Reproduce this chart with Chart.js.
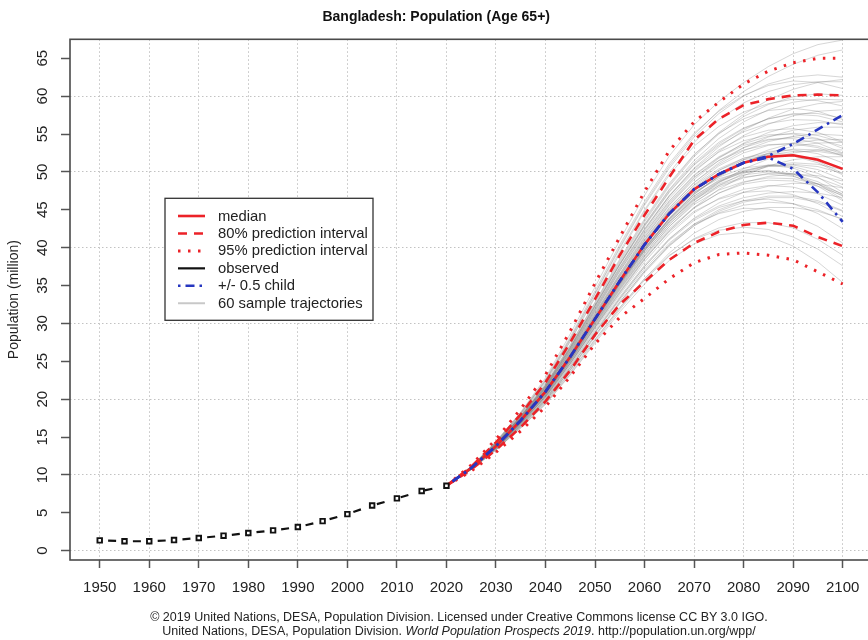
<!DOCTYPE html>
<html>
<head>
<meta charset="utf-8">
<script src="https://cdn.jsdelivr.net/npm/chart.js@4/dist/chart.umd.min.js"></script>
<style>
  html, body { margin: 0; padding: 0; background: #fff; overflow: hidden; width: 868px; height: 640px; }
  #wrap { position: relative; width: 880px; height: 640px; }
  #c { display: block; }
  #foot { position: absolute; left: 0; top: 610px; width: 918px; text-align: center;
          font: 12.5px "Liberation Sans", Arial, sans-serif; color: #222; line-height: 14px; }
</style>
</head>
<body>
<div id="wrap">
  <canvas id="c" width="880" height="640"></canvas>
  <div id="foot">© 2019 United Nations, DESA, Population Division. Licensed under Creative Commons license CC BY 3.0 IGO.<br>United Nations, DESA, Population Division. <i>World Population Prospects 2019</i>. http://population.un.org/wpp/</div>
</div>
<script>
// ---- data (population aged 65+, millions) ----
const obsYears = [1950, 1955, 1960, 1965, 1970, 1975, 1980, 1985, 1990, 1995, 2000, 2005, 2010, 2015, 2020];
const observed = [1.36, 1.25, 1.24, 1.40, 1.67, 1.98, 2.33, 2.68, 3.12, 3.90, 4.83, 5.96, 6.90, 7.87, 8.57];

const projYears = [2020, 2025, 2030, 2035, 2040, 2045, 2050, 2055, 2060, 2065, 2070, 2075, 2080, 2085, 2090, 2095, 2100];
const median  = [8.57, 10.9, 13.8, 17.2, 21.0, 25.6, 30.6, 35.6, 40.4, 44.5, 47.7, 49.7, 51.2, 52.0, 52.2, 51.6, 50.4];
const upper80 = [8.57, 11.1, 14.3, 18.0, 22.2, 27.5, 33.2, 39.0, 44.3, 49.3, 54.2, 57.0, 58.8, 59.6, 60.1, 60.2, 60.1];
const lower80 = [8.57, 10.7, 13.3, 16.3, 19.7, 23.8, 28.5, 32.5, 35.5, 38.4, 40.6, 42.1, 43.0, 43.3, 42.9, 41.4, 40.2];
const upper95 = [8.57, 11.3, 14.7, 18.7, 23.2, 29.0, 35.3, 41.4, 47.4, 52.8, 56.6, 59.2, 61.6, 63.3, 64.4, 65.0, 65.0];
const lower95 = [8.57, 10.5, 13.0, 15.8, 19.0, 23.0, 27.3, 30.8, 33.3, 35.9, 38.0, 39.1, 39.3, 39.0, 38.4, 36.8, 35.2];
const childHigh = [8.57, 10.9, 13.8, 17.2, 21.0, 25.6, 30.6, 35.6, 40.4, 44.5, 47.7, 49.7, 51.2, 52.1, 53.7, 55.6, 57.5];
const childLow  = [8.57, 10.9, 13.8, 17.2, 21.0, 25.6, 30.6, 35.6, 40.4, 44.5, 47.7, 49.7, 51.2, 51.9, 50.4, 47.3, 43.4];

const sampleTrajectories = [
  [8.6, 11.1, 14.4, 18.3, 22.8, 28.6, 34.8, 41.0, 46.9, 52.1, 56.2, 59.3, 61.8, 63.9, 65.6, 66.8, 67.4],
  [8.6, 11.0, 14.2, 17.9, 22.1, 27.6, 33.4, 39.2, 44.8, 49.6, 53.4, 56.0, 57.9, 59.0, 59.6, 59.4, 58.7],
  [8.6, 10.9, 13.9, 17.4, 21.4, 26.2, 31.4, 36.6, 41.6, 45.9, 49.3, 51.5, 52.9, 53.6, 53.7, 53.2, 52.1],
  [8.6, 10.8, 13.6, 16.8, 20.3, 24.7, 29.5, 34.1, 38.5, 42.1, 44.8, 46.4, 47.3, 47.5, 47.0, 45.8, 44.1],
  [8.6, 10.9, 13.8, 17.1, 20.9, 25.5, 30.5, 35.6, 40.2, 44.3, 47.5, 49.8, 51.6, 52.9, 53.8, 54.2, 54.3],
  [8.6, 11.0, 14.1, 17.7, 21.7, 26.8, 32.3, 37.8, 43.0, 47.6, 51.2, 53.9, 55.8, 57.0, 57.6, 57.4, 56.6],
  [8.6, 10.8, 13.5, 16.6, 19.9, 24.1, 28.7, 33.1, 37.2, 40.6, 43.1, 44.5, 45.2, 45.1, 44.3, 42.8, 40.6],
  [8.6, 10.9, 13.7, 17.0, 20.6, 25.1, 30.0, 34.9, 39.5, 43.4, 46.5, 48.6, 50.0, 50.8, 50.9, 50.3, 49.0],
  [8.6, 11.0, 14.0, 17.5, 21.5, 26.5, 31.8, 37.2, 42.3, 46.8, 50.5, 53.3, 55.5, 57.1, 58.3, 59.0, 59.3],
  [8.6, 10.9, 13.8, 17.2, 21.0, 25.7, 30.8, 35.8, 40.5, 44.4, 47.3, 49.1, 50.0, 50.1, 49.5, 48.1, 46.2],
  [8.6, 10.7, 13.4, 16.4, 19.6, 23.6, 27.9, 32.1, 35.9, 39.0, 41.1, 42.3, 42.7, 42.4, 41.4, 39.8, 37.6],
  [8.6, 11.1, 14.3, 18.1, 22.4, 27.9, 33.9, 39.9, 45.6, 50.5, 54.6, 57.7, 60.0, 61.6, 62.5, 62.8, 62.5],
  [8.6, 10.9, 13.9, 17.3, 21.2, 26.0, 31.1, 36.3, 41.1, 45.3, 48.6, 51.0, 52.8, 54.0, 54.7, 55.0, 54.8],
  [8.6, 10.8, 13.7, 16.9, 20.5, 25.0, 29.8, 34.6, 39.0, 42.8, 45.7, 47.6, 48.7, 49.2, 49.1, 48.4, 47.1],
  [8.6, 11.0, 14.0, 17.6, 21.6, 26.6, 32.0, 37.4, 42.4, 46.8, 50.2, 52.6, 54.1, 54.9, 55.0, 54.4, 53.1],
  [8.6, 10.9, 13.8, 17.2, 20.9, 25.5, 30.5, 35.4, 40.0, 43.9, 47.1, 49.4, 51.2, 52.5, 53.4, 53.8, 53.9],
  [8.6, 10.8, 13.6, 16.7, 20.2, 24.5, 29.2, 33.8, 38.1, 41.8, 44.6, 46.5, 47.7, 48.2, 48.0, 47.1, 45.6],
  [8.6, 11.0, 14.2, 17.8, 21.9, 27.1, 32.7, 38.3, 43.6, 48.3, 52.2, 55.2, 57.6, 59.5, 60.9, 61.8, 62.2],
  [8.6, 10.9, 13.7, 17.0, 20.7, 25.2, 30.1, 35.0, 39.6, 43.4, 46.3, 48.2, 49.3, 49.7, 49.4, 48.4, 46.8],
  [8.6, 10.8, 13.5, 16.5, 19.8, 23.9, 28.4, 32.8, 36.9, 40.3, 42.9, 44.6, 45.6, 46.0, 45.8, 45.0, 43.7],
  [8.6, 11.0, 14.1, 17.6, 21.6, 26.7, 32.2, 37.7, 42.8, 47.3, 50.9, 53.5, 55.3, 56.4, 56.9, 56.8, 56.2],
  [8.6, 10.9, 13.8, 17.1, 20.8, 25.4, 30.4, 35.3, 39.9, 43.9, 47.1, 49.5, 51.3, 52.4, 53.0, 52.9, 52.3],
  [8.6, 10.9, 13.9, 17.4, 21.3, 26.1, 31.3, 36.5, 41.4, 45.7, 49.2, 51.8, 53.8, 55.2, 56.1, 56.5, 56.4],
  [8.6, 10.8, 13.6, 16.8, 20.4, 24.8, 29.6, 34.4, 38.8, 42.5, 45.3, 47.2, 48.4, 48.9, 48.8, 48.1, 46.9],
  [8.6, 10.7, 13.3, 16.2, 19.4, 23.3, 27.6, 31.8, 35.7, 38.9, 41.2, 42.6, 43.3, 43.3, 42.6, 41.1, 39.0],
  [8.6, 11.1, 14.4, 18.2, 22.6, 28.2, 34.3, 40.4, 46.1, 51.1, 55.1, 58.0, 60.1, 61.4, 62.0, 61.8, 61.0],
  [8.6, 10.9, 13.8, 17.2, 21.0, 25.6, 30.7, 35.7, 40.4, 44.5, 47.8, 50.2, 51.8, 52.7, 52.9, 52.4, 51.2],
  [8.6, 11.0, 14.0, 17.5, 21.4, 26.3, 31.6, 36.9, 41.9, 46.2, 49.6, 52.0, 53.7, 54.7, 55.1, 54.8, 53.9],
  [8.6, 10.8, 13.6, 16.8, 20.3, 24.7, 29.4, 34.0, 38.4, 42.2, 45.3, 47.7, 49.5, 50.8, 51.6, 52.0, 52.0],
  [8.6, 10.9, 13.7, 17.0, 20.7, 25.3, 30.3, 35.2, 39.8, 43.7, 46.8, 48.9, 50.2, 50.8, 50.7, 49.8, 48.3],
  [8.6, 10.8, 13.5, 16.6, 20.0, 24.2, 28.8, 33.3, 37.5, 41.0, 43.6, 45.3, 46.2, 46.4, 45.8, 44.5, 42.5],
  [8.6, 11.0, 14.1, 17.7, 21.8, 26.9, 32.5, 38.1, 43.4, 48.1, 52.0, 55.0, 57.3, 58.9, 59.9, 60.3, 60.1],
  [8.6, 10.9, 13.8, 17.2, 21.0, 25.7, 30.8, 35.9, 40.7, 44.9, 48.3, 50.8, 52.5, 53.5, 53.8, 53.4, 52.4],
  [8.6, 10.9, 13.9, 17.3, 21.1, 25.9, 31.0, 36.1, 40.9, 45.0, 48.2, 50.4, 51.8, 52.4, 52.3, 51.4, 49.8],
  [8.6, 10.8, 13.6, 16.7, 20.1, 24.4, 29.0, 33.5, 37.7, 41.2, 43.8, 45.5, 46.6, 47.2, 47.4, 47.2, 46.6],
  [8.6, 11.0, 14.1, 17.7, 21.7, 26.8, 32.3, 37.8, 42.9, 47.4, 51.0, 53.7, 55.7, 57.0, 57.7, 57.7, 57.1],
  [8.6, 10.9, 13.8, 17.1, 20.8, 25.4, 30.3, 35.2, 39.7, 43.6, 46.6, 48.7, 50.1, 50.9, 51.2, 51.0, 50.3],
  [8.6, 10.7, 13.3, 16.2, 19.3, 23.2, 27.4, 31.5, 35.2, 38.3, 40.5, 41.7, 42.0, 41.5, 40.2, 38.1, 35.4],
  [8.6, 11.0, 14.0, 17.5, 21.5, 26.4, 31.8, 37.1, 42.1, 46.5, 50.0, 52.7, 54.8, 56.3, 57.4, 58.0, 58.2],
  [8.6, 10.9, 13.7, 17.0, 20.6, 25.1, 30.0, 34.8, 39.3, 43.1, 46.0, 48.0, 49.2, 49.8, 49.8, 49.2, 48.0],
  [8.6, 11.1, 14.3, 18.0, 22.3, 27.7, 33.6, 39.5, 45.0, 49.9, 53.9, 56.9, 59.1, 60.6, 61.5, 61.9, 61.9],
  [8.6, 10.8, 13.6, 16.9, 20.4, 24.9, 29.7, 34.5, 38.9, 42.8, 45.9, 48.2, 49.8, 50.7, 51.0, 50.7, 49.8],
  [8.6, 10.9, 13.8, 17.2, 20.9, 25.6, 30.6, 35.6, 40.3, 44.2, 47.3, 49.3, 50.5, 50.9, 50.5, 49.3, 47.3],
  [8.6, 10.8, 13.5, 16.6, 20.0, 24.2, 28.8, 33.3, 37.5, 41.1, 43.9, 45.9, 47.3, 48.1, 48.5, 48.4, 47.9],
  [8.6, 11.0, 14.1, 17.6, 21.6, 26.6, 32.0, 37.4, 42.5, 46.9, 50.4, 52.9, 54.6, 55.5, 55.7, 55.2, 54.0],
  [8.6, 10.9, 13.8, 17.1, 20.8, 25.4, 30.4, 35.3, 39.9, 43.8, 46.8, 48.8, 49.9, 50.2, 49.7, 48.4, 46.4],
  [8.6, 10.8, 13.6, 16.8, 20.3, 24.7, 29.5, 34.2, 38.6, 42.3, 45.2, 47.2, 48.6, 49.4, 49.7, 49.5, 48.8],
  [8.6, 11.0, 14.2, 17.8, 21.9, 27.2, 32.8, 38.5, 43.8, 48.5, 52.3, 55.1, 57.0, 58.1, 58.4, 58.0, 56.9],
  [8.6, 10.9, 13.9, 17.3, 21.2, 25.9, 31.0, 36.2, 41.0, 45.2, 48.6, 51.2, 53.2, 54.6, 55.5, 55.9, 55.9],
  [8.6, 10.7, 13.3, 16.3, 19.5, 23.5, 27.8, 32.0, 35.9, 39.3, 41.9, 43.7, 44.8, 45.3, 45.3, 44.8, 43.8],
  [8.6, 10.9, 13.8, 17.2, 21.0, 25.7, 30.8, 35.9, 40.7, 44.8, 48.0, 50.2, 51.6, 52.2, 52.1, 51.2, 49.6],
  [8.6, 11.0, 14.0, 17.5, 21.4, 26.3, 31.6, 36.9, 41.8, 46.1, 49.5, 51.9, 53.5, 54.3, 54.4, 53.8, 52.5],
  [8.6, 10.8, 13.7, 16.9, 20.5, 25.0, 29.9, 34.7, 39.2, 43.1, 46.2, 48.6, 50.4, 51.7, 52.5, 52.9, 52.9],
  [8.6, 10.9, 13.7, 17.0, 20.7, 25.2, 30.2, 35.1, 39.6, 43.4, 46.4, 48.4, 49.6, 50.0, 49.7, 48.7, 47.0],
  [8.6, 11.0, 14.1, 17.7, 21.8, 26.9, 32.4, 37.9, 43.1, 47.7, 51.5, 54.4, 56.6, 58.2, 59.2, 59.6, 59.5],
  [8.6, 10.8, 13.5, 16.5, 19.8, 23.9, 28.4, 32.8, 36.9, 40.4, 43.1, 45.0, 46.2, 46.8, 46.8, 46.2, 44.9],
  [8.6, 10.9, 13.9, 17.3, 21.2, 26.0, 31.2, 36.4, 41.3, 45.6, 49.0, 51.5, 53.2, 54.2, 54.6, 54.3, 53.4],
  [8.6, 10.9, 13.8, 17.1, 20.8, 25.3, 30.3, 35.2, 39.8, 43.8, 47.0, 49.4, 51.1, 52.2, 52.7, 52.7, 52.2],
  [8.6, 10.7, 13.4, 16.4, 19.7, 23.8, 28.2, 32.6, 36.7, 40.2, 42.9, 44.8, 46.0, 46.6, 46.6, 46.0, 44.8],
  [8.6, 11.1, 14.3, 18.1, 22.5, 28.0, 34.0, 40.1, 45.8, 50.8, 54.9, 58.1, 60.6, 62.6, 64.2, 65.4, 66.1]
];

const xTickYears = [1950, 1960, 1970, 1980, 1990, 2000, 2010, 2020, 2030, 2040, 2050, 2060, 2070, 2080, 2090, 2100];
const yTickValues = [0, 5, 10, 15, 20, 25, 30, 35, 40, 45, 50, 55, 60, 65];

const legendLabels = ['median', '80% prediction interval', '95% prediction interval',
                      'observed', '+/- 0.5 child', '60 sample trajectories'];

// ---- styling ----
const FONT = '"Liberation Sans", Arial, Helvetica, sans-serif';
const RED = '#ec2228';
const BLUE = '#2636c0';
const GREY = 'rgba(120,120,120,0.30)';
const INK = '#222';

const pts = (xs, ys) => xs.map((x, i) => ({ x, y: ys[i] }));

const lineStyle = {
  median:  { borderColor: RED,  borderWidth: 2.6, borderDash: [] },
  pi80:    { borderColor: RED,  borderWidth: 2.6, borderDash: [9, 7] },
  pi95:    { borderColor: RED,  borderWidth: 3,   borderDash: [2.5, 7.5] },
  observed:{ borderColor: '#111', borderWidth: 2.2, borderDash: [] },
  child:   { borderColor: BLUE, borderWidth: 2.6, borderDash: [2.5, 5, 9, 5] },
  sample:  { borderColor: '#c8c8c8', borderWidth: 2, borderDash: [] }
};

const base = { pointRadius: 0, tension: 0, fill: false };
const datasets = [
  { ...base, label: 'observed', data: pts(obsYears, observed),
    borderColor: '#111', borderWidth: 2.2, borderDash: [8, 16.8], borderDashOffset: 16.4,
    pointStyle: 'rect', pointRadius: 3.2, pointBorderWidth: 1.9,
    pointBackgroundColor: '#fff', pointBorderColor: '#111' },
  { ...base, label: '+/- 0.5 child (high)', data: pts(projYears, childHigh), ...lineStyle.child },
  { ...base, label: '+/- 0.5 child (low)',  data: pts(projYears, childLow),  ...lineStyle.child },
  { ...base, label: 'median', data: pts(projYears, median), ...lineStyle.median },
  { ...base, label: '80% upper', data: pts(projYears, upper80), ...lineStyle.pi80 },
  { ...base, label: '80% lower', data: pts(projYears, lower80), ...lineStyle.pi80 },
  { ...base, label: '95% upper', data: pts(projYears, upper95), ...lineStyle.pi95 },
  { ...base, label: '95% lower', data: pts(projYears, lower95), ...lineStyle.pi95 },
  ...sampleTrajectories.map((row, i) => ({
    ...base, label: 'trajectory ' + (i + 1), data: pts(projYears, row),
    borderColor: GREY, borderWidth: 1
  }))
];

// frame around the plotting region
const frame = {
  id: 'frame',
  afterDraw(chart) {
    const { ctx, chartArea: a } = chart;
    ctx.save();
    ctx.strokeStyle = '#4a4a4a';
    ctx.lineWidth = 1.6;
    ctx.strokeRect(a.left, a.top, a.right - a.left, a.bottom - a.top);
    ctx.restore();
  }
};

// boxed key inside the plotting region
const keyBox = {
  id: 'keyBox',
  afterDraw(chart) {
    const { ctx, chartArea: a } = chart;
    const styles = [lineStyle.median, lineStyle.pi80, lineStyle.pi95, lineStyle.observed, lineStyle.child, lineStyle.sample];
    const bx = a.left + 95, by = a.top + 159, bw = 208, bh = 122;
    ctx.save();
    ctx.fillStyle = '#fff';
    ctx.fillRect(bx, by, bw, bh);
    ctx.strokeStyle = '#333';
    ctx.lineWidth = 1.3;
    ctx.strokeRect(bx, by, bw, bh);
    ctx.font = '14.8px ' + FONT;
    ctx.textBaseline = 'middle';
    ctx.textAlign = 'left';
    legendLabels.forEach((lab, i) => {
      const y = by + 17.7 + i * 17.45;
      const s = styles[i];
      ctx.strokeStyle = s.borderColor;
      ctx.lineWidth = s.borderWidth;
      ctx.setLineDash(s.borderDash);
      ctx.beginPath();
      ctx.moveTo(bx + 13, y);
      ctx.lineTo(bx + 40, y);
      ctx.stroke();
      ctx.setLineDash([]);
      ctx.fillStyle = INK;
      ctx.fillText(lab, bx + 53, y + 0.5);
    });
    ctx.restore();
  }
};

new Chart(document.getElementById('c'), {
  type: 'line',
  data: { datasets },
  plugins: [frame, keyBox],
  options: {
    responsive: false,
    devicePixelRatio: 1,
    animation: false,
    events: [],
    layout: { padding: { left: 0, right: 7.6, top: 0, bottom: 0 } },
    plugins: {
      legend: { display: false },
      tooltip: { enabled: false },
      title: {
        display: true,
        text: 'Bangladesh: Population (Age 65+)',
        color: '#111',
        font: { family: FONT, size: 14, weight: 'bold' },
        padding: { top: 9, bottom: 13.5 }
      }
    },
    scales: {
      x: {
        type: 'linear', min: 1944, max: 2106,
        afterBuildTicks: s => { s.ticks = xTickYears.map(v => ({ value: v })); },
        afterFit: s => { s.height = 80; },
        ticks: {
          autoSkip: false, minRotation: 0, maxRotation: 0, padding: 11,
          color: INK, font: { family: FONT, size: 15 },
          callback: v => String(v)
        },
        grid: { color: '#c2c2c2', lineWidth: 1, drawTicks: true, tickLength: 8, tickColor: '#555', tickWidth: 1.5 },
        border: { display: false, dash: [1.5, 2.5] }
      },
      y: {
        type: 'linear', min: -1.23, max: 67.5,
        afterBuildTicks: s => { s.ticks = yTickValues.map(v => ({ value: v })); },
        afterFit: s => { s.width = 70; },
        ticks: {
          autoSkip: false, minRotation: 90, maxRotation: 90, crossAlign: 'center', padding: 10,
          color: INK, font: { family: FONT, size: 15 },
          callback: v => String(v)
        },
        grid: {
          color: c => (c.tick && c.tick.value % 10 === 0) ? '#c2c2c2' : 'rgba(0,0,0,0)',
          lineWidth: 1, drawTicks: true, tickLength: 9, tickColor: '#555', tickWidth: 1.5
        },
        border: { display: false, dash: [1.5, 2.5] },
        title: {
          display: true, text: 'Population (million)', color: INK,
          font: { family: FONT, size: 14 }, padding: { top: 6, bottom: 0 }
        }
      }
    }
  }
});
</script>
</body>
</html>
